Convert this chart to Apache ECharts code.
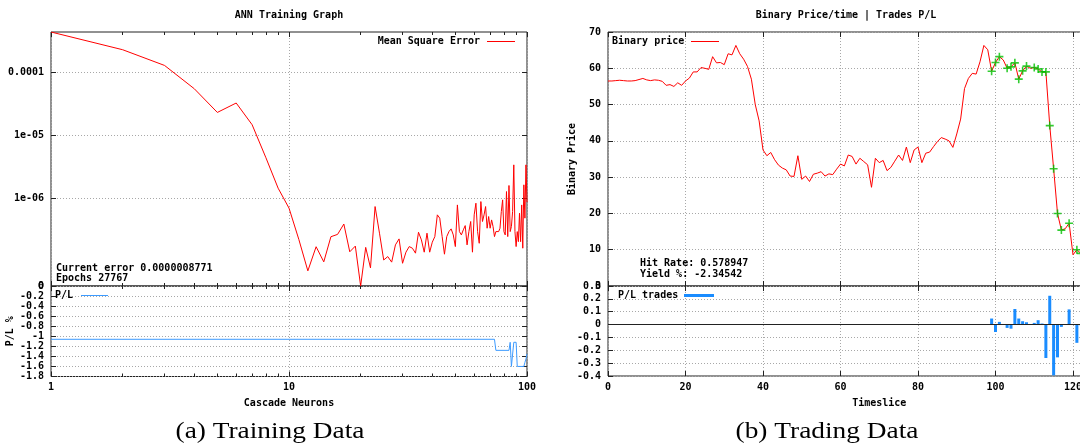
<!DOCTYPE html>
<html>
<head>
<meta charset="utf-8">
<script src="https://cdn.jsdelivr.net/npm/echarts@6/dist/echarts.min.js"></script>
<style>
  html, body { margin: 0; padding: 0; background: #fff; }
  #chart { width: 1080px; height: 448px; }
</style>
</head>
<body>
<div id="chart"></div>
<script>
// ---------- ANN training: mean square error per cascade neuron (1..100) ----------
const mse = [
  4.375e-4, 2.29e-4, 1.29e-4, 5.51e-5, 2.32e-5, 3.27e-5, 1.48e-5, 4.43e-6, 1.46e-6, 7.05e-7,
  2.24e-7, 7.13e-8, 1.72e-7, 9.9e-8, 2.48e-7, 2.70e-7, 3.94e-7, 1.43e-7, 1.76e-7, 0,
  1.68e-7, 7.94e-8, 7.46e-7, 2.82e-7, 1.06e-7, 1.20e-7, 9.8e-8, 1.84e-7, 2.29e-7, 9.4e-8,
  1.41e-7, 1.73e-7, 1.63e-7, 1.36e-7, 2.92e-7, 2.21e-7, 1.41e-7, 2.82e-7, 1.41e-7, 2.03e-7,
  2.49e-7, 5.51e-7, 4.88e-7, 2.49e-7, 1.31e-7, 2.49e-7, 2.99e-7, 3.30e-7, 2.65e-7, 1.73e-7,
  7.92e-7, 2.99e-7, 2.65e-7, 3.18e-7, 3.72e-7, 1.84e-7, 2.99e-7, 4.32e-7, 1.41e-7, 5.51e-7,
  8.43e-7, 2.99e-7, 1.95e-7, 8.95e-7, 4.32e-7, 5.51e-7, 7.46e-7, 3.38e-7, 5.18e-7, 3.38e-7,
  4.58e-7, 3.60e-7, 2.49e-7, 2.99e-7, 2.82e-7, 2.99e-7, 3.38e-7, 6.22e-7, 9.53e-7, 2.99e-7,
  2.65e-7, 1.29e-6, 2.49e-7, 1.61e-6, 2.99e-7, 3.60e-7, 6.22e-7, 3.42e-6, 2.99e-7, 1.73e-7,
  2.99e-7, 2.07e-7, 5.85e-7, 2.07e-7, 7.92e-7, 1.63e-7, 1.65e-6, 4.88e-7, 3.42e-6, 8.771e-7
];
const neurons = mse.map((_, i) => i + 1);

// P/L % of the network at the neuron counts where it changes
const plNeurons = [1, 73, 74, 84, 85, 86, 87, 88, 90, 91, 97, 98, 99, 100];
const plValues  = [-1.06, -1.06, -1.28, -1.28, -1.12, -1.6, -1.6, -1.12, -1.12, -1.6, -1.6, -1.52, -1.45, -1.35];

// axis ranges / ticks of the training graph
const mseTop = 4.375e-4;
const mseFloor = 4.1e-8;               // bottom of the log axis, labelled "0"
const mseDecades = [-6, -5, -4];
const neuronMinor = [2, 3, 4, 5, 6, 7, 8, 9, 20, 30, 40, 50, 60, 70, 80, 90];

// ---------- Trading: binary price per timeslice (0..122) ----------
const price = [
  56.5, 56.5, 56.6, 56.7, 56.6, 56.5, 56.5, 56.6, 56.9, 57.2,
  56.8, 56.6, 56.8, 56.7, 56.4, 55.3, 55.5, 55.0, 56.0, 55.3,
  56.5, 57.3, 59.0, 59.0, 60.2, 60.0, 59.7, 63.2, 61.5, 61.6,
  61.0, 64.0, 63.7, 66.3, 64.0, 62.5, 60.5, 57.0, 50.0, 45.5,
  37.5, 35.9, 36.8, 34.8, 33.3, 32.5, 32.0, 30.3, 30.2, 35.9,
  29.4, 30.3, 28.8, 30.8, 31.1, 31.5, 30.3, 30.9, 30.7, 32.2,
  33.6, 33.1, 36.1, 35.7, 33.6, 35.2, 34.3, 33.4, 27.2, 35.2,
  34.0, 34.6, 31.8, 32.7, 34.4, 36.1, 34.6, 38.3, 34.0, 37.5,
  38.3, 34.0, 36.6, 36.9, 38.4, 39.8, 40.9, 40.5, 40.0, 38.2,
  41.9, 46.0, 54.4, 57.2, 58.6, 58.4, 61.8, 66.3, 65.1, 59.2,
  61.6, 63.2, 62.3, 60.0, 60.4, 61.5, 57.0, 59.3, 60.6, 60.0,
  60.2, 59.8, 59.0, 59.0, 44.2, 32.3, 20.0, 15.4, 15.8, 17.3,
  8.6, 10.0, 9.0
];
const timeslices = price.map((_, i) => i);

// trades: timeslice and resulting P/L
const trades  = [99, 100, 101, 103, 104, 105, 106, 107, 108, 110, 111, 112, 113, 114, 115, 116, 117, 119, 121, 122];
const tradePL = [0.047, -0.058, 0.021, -0.026, -0.032, 0.121, 0.047, 0.026, 0.018, 0.013, 0.034, 0.008,
                 -0.26, 0.224, -0.395, -0.255, -0.018, 0.118, -0.142, -0.005];

// ---------- styling ----------
const MONO = '"DejaVu Sans Mono", "Liberation Mono", monospace';
const lbl = { fontFamily: MONO, fontWeight: 'bold', fontSize: 10, color: '#000' };
const gridLine = { show: true, lineStyle: { color: '#a8a8a8', type: [1, 2], width: 1 } };
const noLine = { show: false, onZero: false };
const tickStyle = { color: '#222', width: 1 };
const RED = '#ff0000';
const BLUE_LINE = '#3d9bff';
const BLUE_BAR = '#1a8cff';
const GREEN = '#00c000';

const log10 = Math.log10;
const yLo = log10(mseFloor), yHi = log10(mseTop);
const gfmt = e => (e >= -4 ? Math.pow(10, e).toFixed(-e) : '1e-' + String(-e).padStart(2, '0'));

// right-hand panels: 0..140 timeslices, 120 lands at x=1073 (the frame runs past the page edge)
const RX0 = 608, RPX = (1073 - 608) / 120;

const grids = [
  { left: 51, top: 32, width: 476, height: 254 },              // MSE
  { left: 51, top: 286, width: 476, height: 90.5 },            // P/L %
  { left: RX0, top: 32, width: RPX * 140, height: 254 },       // binary price
  { left: RX0, top: 286, width: RPX * 140, height: 90 }        // P/L trades
].map(g => Object.assign(g, {
  show: true, borderColor: '#222', borderWidth: 1, backgroundColor: 'transparent',
  containLabel: false, outerBoundsMode: 'none'
}));

function logX(gridIndex, position, major, labels) {
  const base = {
    gridIndex, type: 'value', position, min: 0, max: 2,
    axisLine: noLine, splitLine: { show: false }, axisLabel: { show: false }
  };
  if (major) {
    base.interval = 1;
    base.axisTick = { show: true, inside: true, length: 5, lineStyle: tickStyle };
    if (position === 'bottom') base.splitLine = gridLine;
    if (labels) {
      base.axisLabel = Object.assign({ show: true, margin: 6, formatter: v => String(Math.round(Math.pow(10, v))) }, lbl);
      base.name = 'Cascade Neurons';
      base.nameLocation = 'middle';
      base.nameGap = 22;
      base.nameTextStyle = lbl;
    }
  } else {
    base.axisTick = { show: true, inside: true, length: 3, lineStyle: tickStyle, customValues: neuronMinor.map(log10) };
  }
  return base;
}

function timeX(gridIndex, position, labels) {
  const a = {
    gridIndex, type: 'value', position, min: 0, max: 140, interval: 20,
    axisLine: noLine,
    axisTick: { show: true, inside: true, length: 5, lineStyle: tickStyle },
    axisLabel: { show: false },
    splitLine: position === 'bottom' ? gridLine : { show: false }
  };
  if (labels) {
    a.axisLabel = Object.assign({ show: true, margin: 6 }, lbl);
    a.name = 'Timeslice';
    a.nameLocation = 'middle';
    a.nameGap = 22;
    a.nameTextStyle = lbl;
  }
  return a;
}

const xAxis = [
  logX(0, 'bottom', true, false), logX(0, 'bottom', false), logX(0, 'top', true), logX(0, 'top', false),
  logX(1, 'bottom', true, true),  logX(1, 'bottom', false), logX(1, 'top', true), logX(1, 'top', false),
  timeX(2, 'bottom', false), timeX(2, 'top', false),
  timeX(3, 'bottom', true), timeX(3, 'top', false)
];

const yAxis = [
  { // 0: MSE, log10 space
    gridIndex: 0, type: 'value', position: 'left', min: yLo, max: yHi,
    axisLine: noLine,
    axisTick: { show: true, inside: true, length: 5, lineStyle: tickStyle, customValues: mseDecades },
    axisLabel: Object.assign({
      margin: 7, showMinLabel: true, customValues: [yLo].concat(mseDecades),
      formatter: v => (v <= yLo + 1e-6 ? '0' : gfmt(Math.round(v)))
    }, lbl),
    splitLine: gridLine
  },
  { // 1: mirror ticks
    gridIndex: 0, type: 'value', position: 'right', min: yLo, max: yHi,
    axisLine: noLine,
    axisTick: { show: true, inside: true, length: 5, lineStyle: tickStyle, customValues: mseDecades },
    axisLabel: { show: false }, splitLine: { show: false }
  },
  { // 2: P/L %
    gridIndex: 1, type: 'value', position: 'left', min: -1.8, max: 0, interval: 0.2,
    axisLine: noLine,
    axisTick: { show: true, inside: true, length: 5, lineStyle: tickStyle },
    axisLabel: Object.assign({
      margin: 7, showMinLabel: true, showMaxLabel: true,
      formatter: v => (Math.abs(v) < 1e-9 ? '0' : String(Math.round(v * 10) / 10))
    }, lbl),
    splitLine: gridLine,
    name: 'P/L %', nameLocation: 'middle', nameGap: 36, nameTextStyle: lbl
  },
  { // 3: mirror ticks
    gridIndex: 1, type: 'value', position: 'right', min: -1.8, max: 0, interval: 0.2,
    axisLine: noLine,
    axisTick: { show: true, inside: true, length: 5, lineStyle: tickStyle },
    axisLabel: { show: false }, splitLine: { show: false }
  },
  { // 4: binary price
    gridIndex: 2, type: 'value', position: 'left', min: 0, max: 70, interval: 10,
    axisLine: noLine,
    axisTick: { show: true, inside: true, length: 5, lineStyle: tickStyle },
    axisLabel: Object.assign({ margin: 7, showMinLabel: true, showMaxLabel: true }, lbl),
    splitLine: gridLine,
    name: 'Binary Price', nameLocation: 'middle', nameGap: 31, nameTextStyle: lbl
  },
  { // 5: trade P/L
    gridIndex: 3, type: 'value', position: 'left', min: -0.4, max: 0.3, interval: 0.1,
    axisLine: noLine,
    axisTick: { show: true, inside: true, length: 5, lineStyle: tickStyle },
    axisLabel: Object.assign({
      margin: 7, showMinLabel: true, showMaxLabel: true,
      formatter: v => (Math.abs(v) < 1e-9 ? '0' : (Math.round(v * 10) / 10).toFixed(1))
    }, lbl),
    splitLine: gridLine
  }
];

const series = [
  {
    name: 'Mean Square Error', type: 'line', xAxisIndex: 0, yAxisIndex: 0,
    data: neurons.map((n, i) => [log10(n), log10(Math.max(mse[i], mseFloor))]),
    showSymbol: false, symbol: 'none', clip: true,
    lineStyle: { color: RED, width: 1 }, itemStyle: { color: RED }, z: 3
  },
  {
    name: 'P/L', type: 'line', xAxisIndex: 4, yAxisIndex: 2,
    data: plNeurons.map((n, i) => [log10(n), plValues[i]]),
    showSymbol: false, symbol: 'none',
    lineStyle: { color: BLUE_LINE, width: 1 }, itemStyle: { color: BLUE_LINE }, z: 3
  },
  {
    name: 'Binary price', type: 'line', xAxisIndex: 8, yAxisIndex: 4,
    data: timeslices.map(t => [t, price[t]]),
    showSymbol: false, symbol: 'none',
    lineStyle: { color: RED, width: 1 }, itemStyle: { color: RED }, z: 3
  },
  {
    name: 'Trades', type: 'scatter', xAxisIndex: 8, yAxisIndex: 4,
    data: trades.map(t => [t, price[t]]),
    symbol: 'path://M4,0H6V4H10V6H6V10H4V6H0V4H4Z', symbolSize: 8,
    itemStyle: { color: GREEN }, z: 4
  },
  {
    name: 'P/L trades', type: 'bar', xAxisIndex: 10, yAxisIndex: 5,
    data: trades.map((t, i) => [t, tradePL[i]]),
    barWidth: 3, itemStyle: { color: BLUE_BAR }, z: 3,
    markLine: {
      silent: true, symbol: 'none', label: { show: false },
      lineStyle: { color: '#222', type: 'solid', width: 1 },
      data: [{ yAxis: 0 }]
    }
  }
];

function txt(text, x, y, align, extra) {
  return {
    type: 'text', x, y, z: 10,
    style: Object.assign({
      text, fill: '#000', font: 'bold 10px ' + MONO,
      textAlign: align || 'left', textVerticalAlign: 'middle'
    }, extra || {})
  };
}
// legend key: a short filled strip in the series colour
function key(x1, x2, y, color, h) {
  return { type: 'rect', z: 10, shape: { x: x1, y: y - h / 2, width: x2 - x1, height: h }, style: { fill: color } };
}
function caption(text, x) {
  return {
    type: 'text', x, y: 432, scaleX: 1.14, z: 10,
    style: { text, fill: '#000', font: '24px "Liberation Serif", "DejaVu Serif", serif', textAlign: 'center', textVerticalAlign: 'middle' }
  };
}

const graphic = [
  txt('ANN Training Graph', 289, 15.5, 'center'),
  txt('Binary Price/time | Trades P/L', 846, 15.5, 'center'),
  txt('Mean Square Error', 480, 41.5, 'right'),
  key(487, 515, 41.5, RED, 1),
  txt('Current error 0.0000008771', 56, 268.5),
  txt('Epochs 27767', 56, 278.5),
  txt('P/L', 55, 295.5),
  key(81, 108, 295.5, BLUE_LINE, 1),
  txt('Binary price', 612, 41.5),
  key(691, 719, 41.5, RED, 1),
  txt('Hit Rate: 0.578947', 640, 263.5),
  txt('Yield %: -2.34542', 640, 274),
  txt('P/L trades', 618, 295.5),
  key(684, 714, 295.5, BLUE_BAR, 3),
  caption('(a) Training Data', 270),
  caption('(b) Trading Data', 827)
];

const chart = echarts.init(document.getElementById('chart'), null, { renderer: 'canvas' });
chart.setOption({
  backgroundColor: '#fff',
  animation: false,
  grid: grids,
  xAxis, yAxis, series, graphic
});
</script>
</body>
</html>
